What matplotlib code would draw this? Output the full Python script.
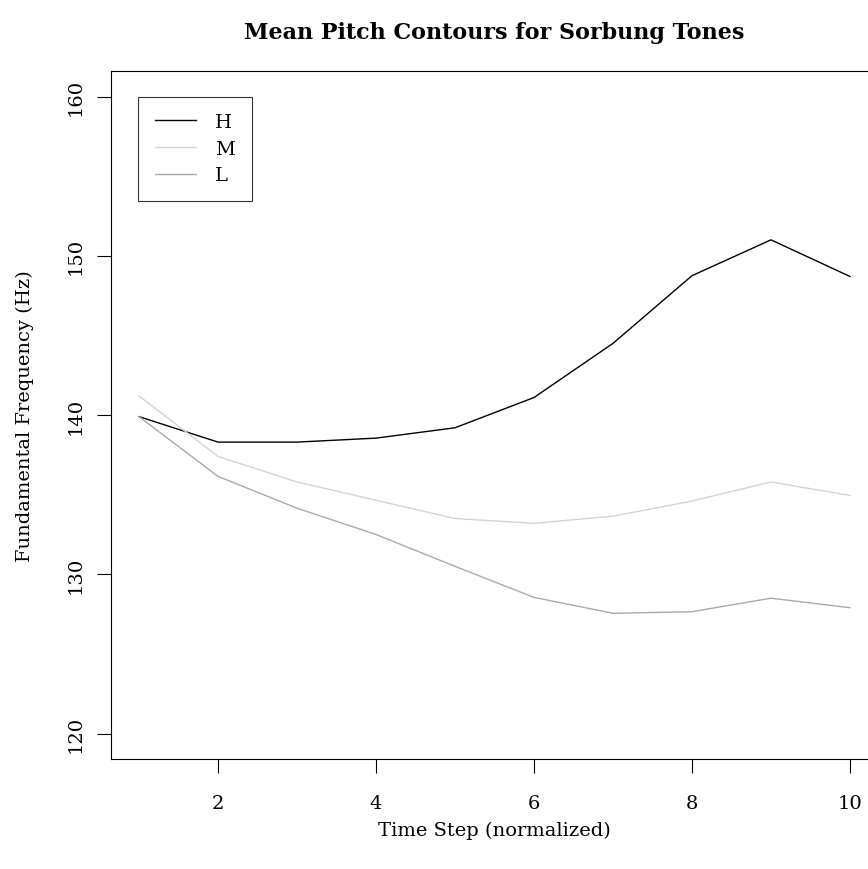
import matplotlib
matplotlib.use("Agg")
import matplotlib.pyplot as plt

# mean f0 per normalized time step
time_steps = [1, 2, 3, 4, 5, 6, 7, 8, 9, 10]
tone_labels = ["H", "M", "L"]
f0_high = [139.9, 138.3, 138.3, 138.55, 139.2, 141.1, 144.5, 148.75, 151.0, 148.7]
f0_mid = [141.2, 137.4, 135.8, 134.65, 133.5, 133.2, 133.65, 134.6, 135.8, 134.95]
f0_low = [139.9, 136.15, 134.15, 132.5, 130.5, 128.55, 127.55, 127.65, 128.5, 127.9]
tone_colors = ["black", "#d3d3d3", "#a9a9a9"]

plt.rcParams["font.family"] = ["DejaVu Serif"]

fig = plt.figure(figsize=(8.68, 8.70), dpi=100)
ax = fig.add_axes([0.1274, 0.1264, 0.8846, 0.7908])

for vals, lab, col in zip([f0_high, f0_mid, f0_low], tone_labels, tone_colors):
    ax.plot(time_steps, vals, color=col, linewidth=1.0, label=lab)

ax.set_xlim(0.64, 10.36)
ax.set_ylim(118.4, 161.6)
ax.set_xticks([2, 4, 6, 8, 10])
ax.set_yticks([120, 130, 140, 150, 160])
ax.tick_params(axis="both", length=10, width=0.8, labelsize=14, colors="black")
ax.tick_params(axis="x", pad=15.5)
ax.tick_params(axis="y", pad=8.5)
for lbl in ax.get_yticklabels():
    lbl.set_rotation(90)
    lbl.set_va("center")
for sp in ax.spines.values():
    sp.set_linewidth(0.8)

ax.set_xlabel("Time Step (normalized)", fontsize=14, labelpad=6)
ax.set_ylabel("Fundamental Frequency (Hz)", fontsize=14, labelpad=24)
fig.text(0.5697, 0.962, "Mean Pitch Contours for Sorbung Tones", ha="center", va="center",
         fontsize=16, fontweight="bold")

leg = ax.legend(loc="upper left", bbox_to_anchor=(0.0361, 0.9627), borderaxespad=0,
                fancybox=False, edgecolor="black", fontsize=14, handlelength=2.1,
                handletextpad=1.0, labelspacing=0.44, borderpad=0.85)
leg.get_frame().set_linewidth(0.8)

plt.savefig("out.png", dpi=100)
plt.close()
